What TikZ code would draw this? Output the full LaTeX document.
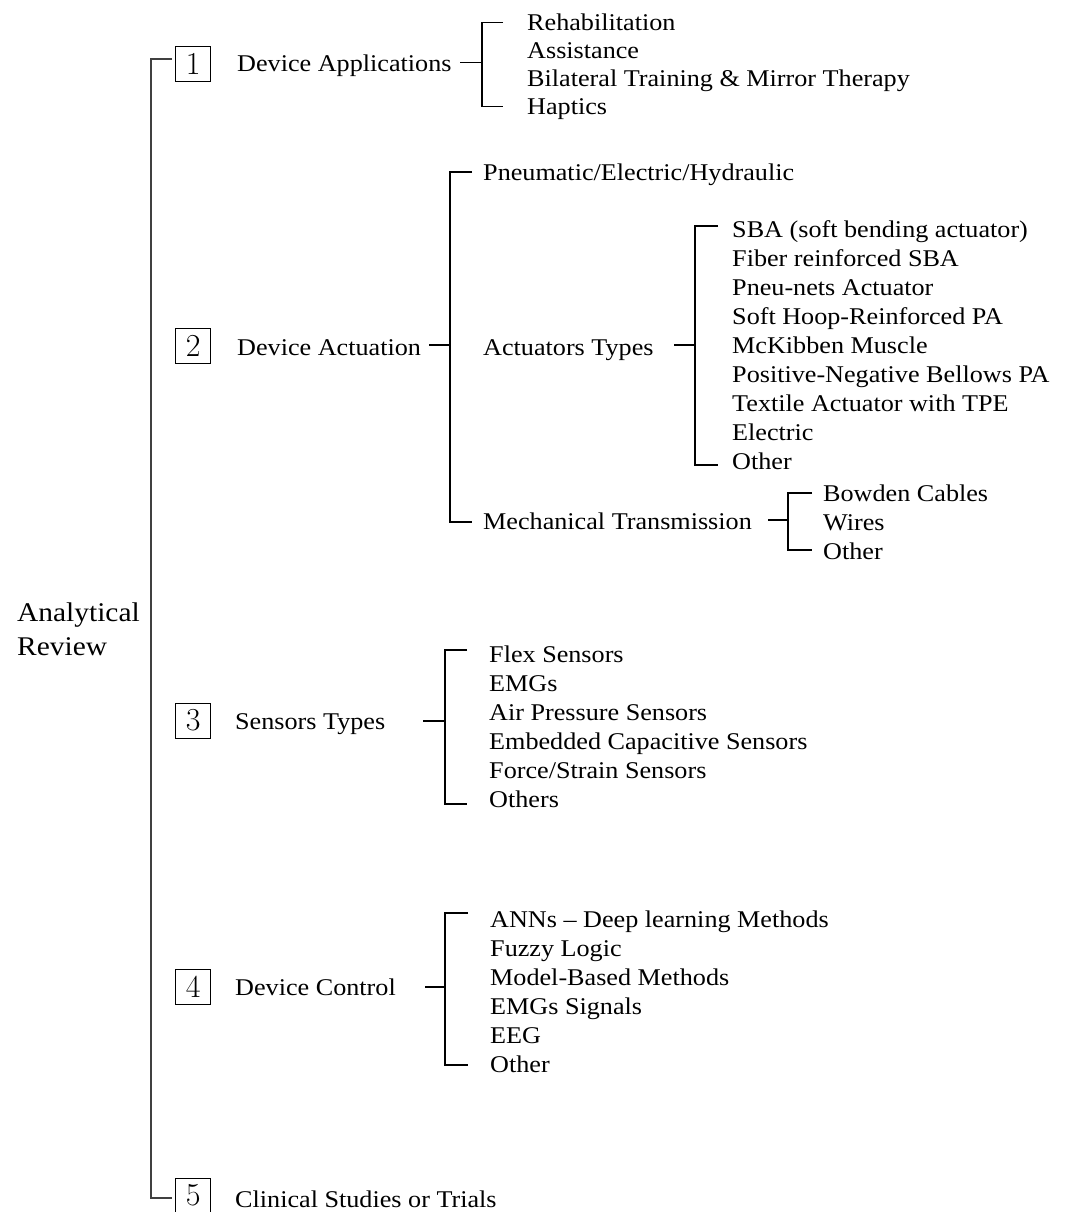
\documentclass[tikz,border=0pt]{standalone}
\usepackage{fontspec}
\newfontfamily\palfont[FakeStretch=1.09,Ligatures=TeX]{Liberation Serif}
\newfontfamily\numfont{Latin Modern Roman}
\begin{document}
\begin{tikzpicture}[x=1pt,y=-1pt,
  txt/.style={anchor=base west,inner sep=0pt,font=\fontsize{24}{28}\palfont},
  rootxt/.style={anchor=base west,inner sep=0pt,font=\fontsize{27}{30}\palfont},
  numbox/.style={draw=black,line width=1pt,minimum width=35pt,minimum height=35pt,inner sep=0pt,font=\fontsize{32}{32}\numfont},
  link/.style={draw=black,line width=1.3pt},
  trunk/.style={draw=black!75,line width=2pt}]
\useasboundingbox (0,0) rectangle (1070,1212);
\clip (0,0) rectangle (1070,1212);

% root
\node[rootxt] (ar1) at (17,621) {Analytical};
\node[rootxt] (ar2) at (17,655) {Review};
\coordinate (ttop) at (151,59.3);
\coordinate (tbot) at (151,1198);
\draw[trunk] (172,59.3) -- (ttop) -- (tbot) -- (172,1198);

% Section 1
\node[numbox] (b1) at (193.2,64.2) {1};
\node[txt] (s1) at (237,72) {Device Applications};
\draw[link] (460,62.7) -- (482,62.7);
\draw[link] (503,22.7) -- (482,22.7) -- (482,106.7) -- (503,106.7);
\node[txt] (a1) at (527,30.7) {Rehabilitation};
\node[txt] (a2) at (527,58.5) {Assistance};
\node[txt] (a3) at (527,86.3) {Bilateral Training \& Mirror Therapy};
\node[txt] (a4) at (527,114.3) {Haptics};

% Section 2
\node[numbox] (b2) at (193.2,346) {2};
\node[txt] (s2) at (237,355) {Device Actuation};
\draw[link] (429,345) -- (450,345);
\draw[link] (472,172) -- (450,172) -- (450,522) -- (472,522);
\node[txt] (p1) at (483,180) {Pneumatic/Electric/Hydraulic};
\node[txt] (p2) at (483,355) {Actuators Types};
\node[txt] (p3) at (483,529) {Mechanical Transmission};
\draw[link] (674,345) -- (695,345);
\draw[link] (718,226) -- (695,226) -- (695,465) -- (718,465);
\node[txt] (t1) at (732,237.7) {SBA (soft bending actuator)};
\node[txt] (t2) at (732,266.7) {Fiber reinforced SBA};
\node[txt] (t3) at (732,295.7) {Pneu-nets Actuator};
\node[txt] (t4) at (732,324.7) {Soft Hoop-Reinforced PA};
\node[txt] (t5) at (732,353.7) {McKibben Muscle};
\node[txt] (t6) at (732,382.7) {Positive-Negative Bellows PA};
\node[txt] (t7) at (732,411.7) {Textile Actuator with TPE};
\node[txt] (t8) at (732,440.7) {Electric};
\node[txt] (t9) at (732,469.7) {Other};
\draw[link] (768,520) -- (788,520);
\draw[link] (812,493) -- (788,493) -- (788,550) -- (812,550);
\node[txt] (m1) at (823,501.5) {Bowden Cables};
\node[txt] (m2) at (823,530) {Wires};
\node[txt] (m3) at (823,559) {Other};

% Section 3
\node[numbox] (b3) at (193.2,720.5) {3};
\node[txt] (s3) at (235,729) {Sensors Types};
\draw[link] (423,721) -- (445,721);
\draw[link] (467,650) -- (445,650) -- (445,804) -- (467,804);
\node[txt] (e1) at (489,662) {Flex Sensors};
\node[txt] (e2) at (489,691) {EMGs};
\node[txt] (e3) at (489,720) {Air Pressure Sensors};
\node[txt] (e4) at (489,749) {Embedded Capacitive Sensors};
\node[txt] (e5) at (489,778) {Force/Strain Sensors};
\node[txt] (e6) at (489,807) {Others};

% Section 4
\node[numbox] (b4) at (193.2,987) {4};
\node[txt] (s4) at (235,995) {Device Control};
\draw[link] (425,987) -- (445,987);
\draw[link] (468,913) -- (445,913) -- (445,1065) -- (468,1065);
\node[txt] (c1) at (490,927) {ANNs \textendash{} Deep learning Methods};
\node[txt] (c2) at (490,956) {Fuzzy Logic};
\node[txt] (c3) at (490,985) {Model-Based Methods};
\node[txt] (c4) at (490,1014) {EMGs Signals};
\node[txt] (c5) at (490,1043) {EEG};
\node[txt] (c6) at (490,1072) {Other};

% Section 5
\node[numbox] (b5) at (193.2,1195.5) {5};
\node[txt] (s5) at (235,1207) {Clinical Studies or Trials};
\end{tikzpicture}
\end{document}
